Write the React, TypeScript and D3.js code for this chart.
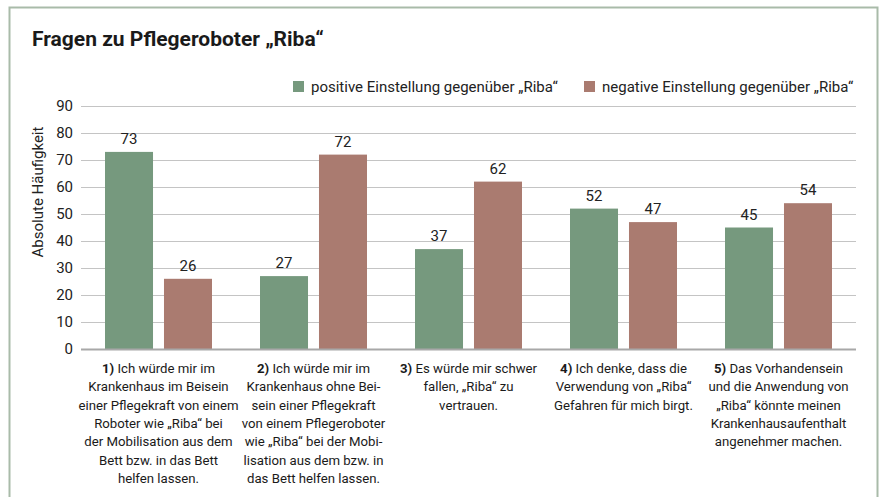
import React, { useEffect, useRef } from 'react';
import * as d3 from 'd3';

const questions = ['1)', '2)', '3)', '4)', '5)'];
const seriesNames = ['positive Einstellung gegenüber „Riba“', 'negative Einstellung gegenüber „Riba“'];
const positive = [73, 27, 37, 52, 45];
const negative = [26, 72, 62, 47, 54];
const yTicks = [0, 10, 20, 30, 40, 50, 60, 70, 80, 90];

// category text, already broken into lines like the original
const questionLines = [
  ['Ich würde mir im', 'Krankenhaus im Beisein', 'einer Pflegekraft von einem', 'Roboter wie „Riba“ bei', 'der Mobilisation aus dem', 'Bett bzw. in das Bett', 'helfen lassen.'],
  ['Ich würde mir im', 'Krankenhaus ohne Bei-', 'sein einer Pflegekraft', 'von einem Pflegeroboter', 'wie „Riba“ bei der Mobi-', 'lisation aus dem bzw. in', 'das Bett helfen lassen.'],
  ['Es würde mir schwer', 'fallen, „Riba“ zu', 'vertrauen.'],
  ['Ich denke, dass die', 'Verwendung von „Riba“', 'Gefahren für mich birgt.'],
  ['Das Vorhandensein', 'und die Anwendung von', '„Riba“ könnte meinen', 'Krankenhausaufenthalt', 'angenehmer machen.'],
];

const colors = ['#76997e', '#aa7b70'];
const FONT = 'Roboto, "Open Sans", sans-serif';

const App: React.FC = () => {
  const svgRef = useRef<SVGSVGElement>(null);

  useEffect(() => {
    if (!svgRef.current) return;
    document.body.style.margin = '0';

    const width = 881;
    const height = 497;
    const plot = { left: 81, right: 856, top: 106, bottom: 349 };

    const svg = d3.select(svgRef.current)
      .attr('width', width)
      .attr('height', height)
      .style('font-family', FONT)
      .html('');

    svg.append('rect').attr('width', width).attr('height', height).attr('fill', '#fff');

    // outer frame (no bottom edge visible)
    svg.append('path')
      .attr('d', `M9.5,${height} V7.5 H877.5 V${height}`)
      .attr('fill', 'none')
      .attr('stroke', '#a9bba9')
      .attr('stroke-width', 2);

    svg.append('text')
      .attr('x', 32)
      .attr('y', 46)
      .attr('font-size', 21)
      .attr('font-weight', 700)
      .attr('fill', '#1a1a1a')
      .text('Fragen zu Pflegeroboter „Riba“');

    const x0 = d3.scaleBand<string>().domain(questions).range([plot.left, plot.right]);
    const x1 = d3.scaleBand<string>().domain(['pos', 'neg'])
      .range([0, x0.bandwidth()])
      .paddingInner(0.186)
      .paddingOuter(0.407);
    const y = d3.scaleLinear().domain([0, 90]).range([plot.bottom, plot.top]);

    // gridlines
    svg.append('g')
      .selectAll('line')
      .data(yTicks.filter(d => d > 0))
      .join('line')
      .attr('x1', plot.left)
      .attr('x2', plot.right)
      .attr('y1', d => Math.round(y(d)) + 0.5)
      .attr('y2', d => Math.round(y(d)) + 0.5)
      .attr('stroke', '#c4c4c4')
      .attr('stroke-width', 1);

    // y tick labels
    svg.append('g')
      .selectAll('text')
      .data(yTicks)
      .join('text')
      .attr('x', 73)
      .attr('y', d => y(d) + 5)
      .attr('text-anchor', 'end')
      .attr('font-size', 15)
      .attr('fill', '#222')
      .text(d => d);

    svg.append('text')
      .attr('transform', 'rotate(-90)')
      .attr('x', -192)
      .attr('y', 43)
      .attr('text-anchor', 'middle')
      .attr('font-size', 15)
      .attr('fill', '#222')
      .text('Absolute Häufigkeit');

    const data = questions.map((q, i) => ({ q, values: [
      { key: 'pos', value: positive[i], color: colors[0] },
      { key: 'neg', value: negative[i], color: colors[1] },
    ] }));

    const groups = svg.append('g')
      .selectAll('g')
      .data(data)
      .join('g')
      .attr('transform', d => `translate(${x0(d.q)},0)`);

    groups.selectAll('rect')
      .data(d => d.values)
      .join('rect')
      .attr('x', d => x1(d.key)!)
      .attr('width', x1.bandwidth())
      .attr('y', d => y(d.value))
      .attr('height', d => y(0) - y(d.value))
      .attr('fill', d => d.color);

    groups.selectAll('text.val')
      .data(d => d.values)
      .join('text')
      .attr('class', 'val')
      .attr('x', d => x1(d.key)! + x1.bandwidth() / 2)
      .attr('y', d => y(d.value) - 8)
      .attr('text-anchor', 'middle')
      .attr('font-size', 15)
      .attr('fill', '#222')
      .text(d => d.value);

    // x axis line
    svg.append('line')
      .attr('x1', plot.left)
      .attr('x2', plot.right)
      .attr('y1', plot.bottom + 0.5)
      .attr('y2', plot.bottom + 0.5)
      .attr('stroke', '#a8a8a8')
      .attr('stroke-width', 2);

    // category labels
    questions.forEach((q, i) => {
      const cx = x0(q)! + x0.bandwidth() / 2;
      const t = svg.append('text')
        .attr('text-anchor', 'middle')
        .attr('font-size', 13.2)
        .attr('fill', '#1a1a1a');
      questionLines[i].forEach((line, j) => {
        const ts = t.append('tspan')
          .attr('x', cx)
          .attr('y', 373 + j * 18.3);
        if (j === 0) {
          ts.append('tspan').attr('font-weight', 700).text(q + ' ');
          ts.append('tspan').text(line);
        } else {
          ts.text(line);
        }
      });
    });

    // legend
    const legendItems = [
      { name: seriesNames[0], color: colors[0], x: 293 },
      { name: seriesNames[1], color: colors[1], x: 584 },
    ];
    const legend = svg.append('g')
      .selectAll('g')
      .data(legendItems)
      .join('g')
      .attr('transform', d => `translate(${d.x},81)`);
    legend.append('rect')
      .attr('width', 11)
      .attr('height', 11)
      .attr('fill', d => d.color);
    legend.append('text')
      .attr('x', 18)
      .attr('y', 10.5)
      .attr('font-size', 15)
      .attr('fill', '#222')
      .text(d => d.name);
  }, []);

  return <svg ref={svgRef} style={{ display: 'block' }} />;
};

export default App;
